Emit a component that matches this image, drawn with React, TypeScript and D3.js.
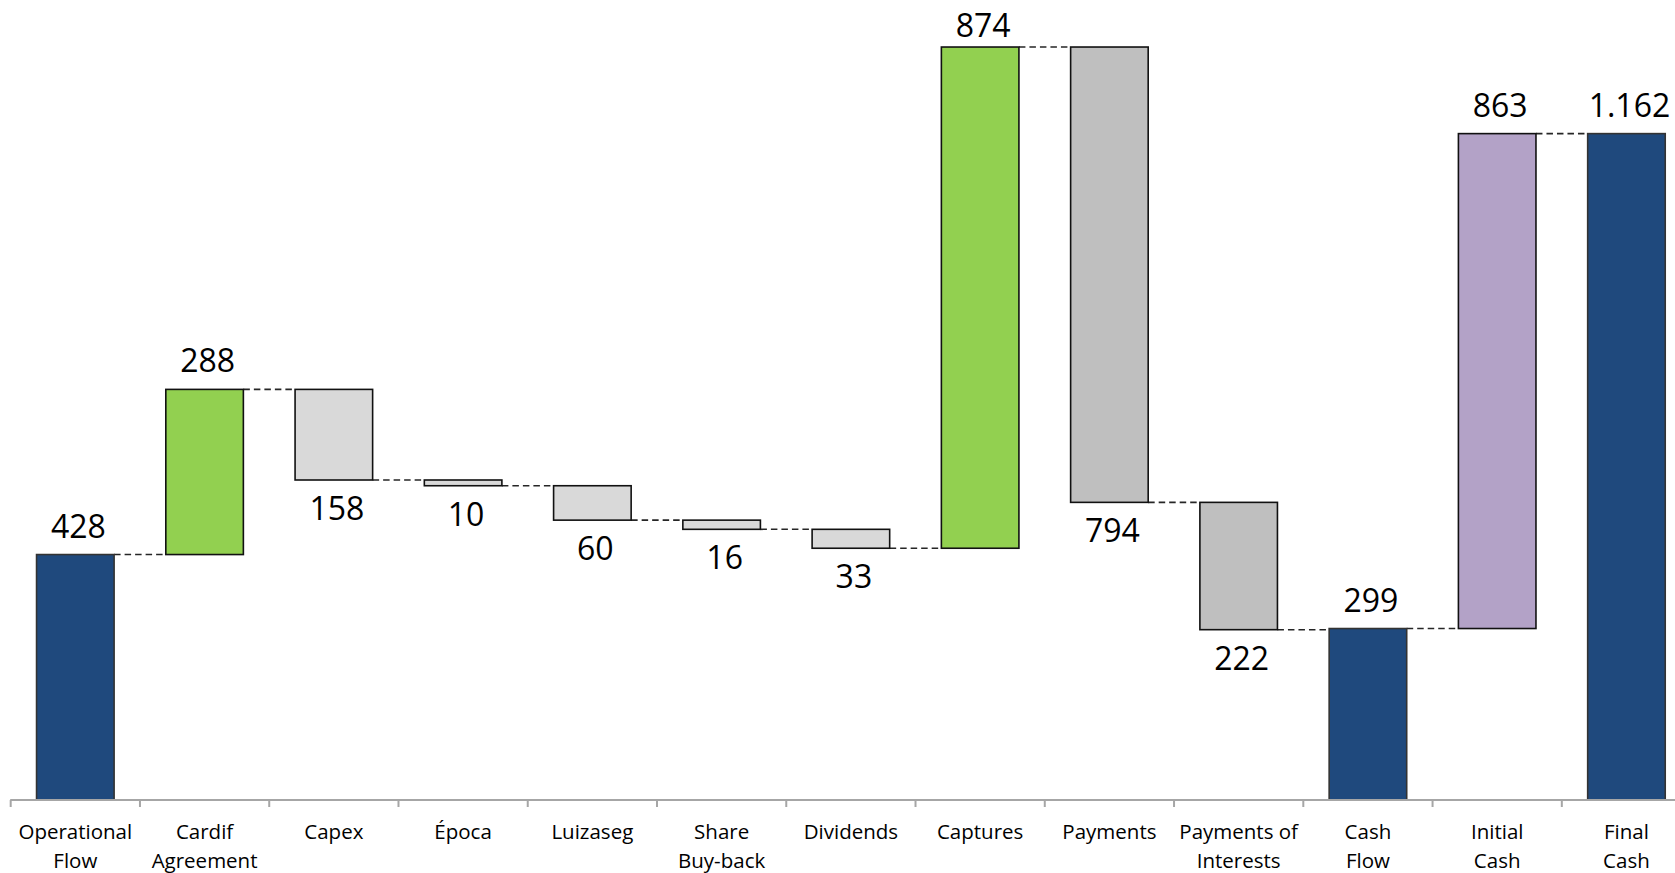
import React from "react";
import * as d3 from "d3";

const categories = [
  "Operational Flow",
  "Cardif Agreement",
  "Capex",
  "Época",
  "Luizaseg",
  "Share Buy-back",
  "Dividends",
  "Captures",
  "Payments",
  "Payments of Interests",
  "Cash Flow",
  "Initial Cash",
  "Final Cash",
];
const axisLines = [
  ["Operational", "Flow"],
  ["Cardif", "Agreement"],
  ["Capex"],
  ["Época"],
  ["Luizaseg"],
  ["Share", "Buy-back"],
  ["Dividends"],
  ["Captures"],
  ["Payments"],
  ["Payments of", "Interests"],
  ["Cash", "Flow"],
  ["Initial", "Cash"],
  ["Final", "Cash"],
];
// value of each step; kind: total = bar from zero, up/down = floating delta
const values = [428, 288, 158, 10, 60, 16, 33, 874, 794, 222, 299, 863, 1162];
const kinds = ["total", "up", "down", "down", "down", "down", "down", "up", "down", "down", "total", "up", "total"];
const colorKeys = ["blue", "green", "light", "light", "light", "light", "light", "green", "gray", "gray", "blue", "purple", "blue"];

const palette: Record<string, string> = {
  blue: "#1F497D",
  green: "#92D050",
  light: "#D9D9D9",
  gray: "#BFBFBF",
  purple: "#B3A2C7",
};

const W = 1675;
const H = 873;
const font = "'Open Sans', 'Noto Sans', sans-serif";

export default function App() {
  const step = 129.26;
  const x0 = 10.7;
  const x = d3
    .scaleBand<string>()
    .domain(categories)
    .range([x0, x0 + step * categories.length])
    .paddingInner(0.4)
    .paddingOuter(0.2);
  const y = d3.scaleLinear().domain([0, 1395]).range([800, 0]);
  const fmt = d3.formatLocale({ decimal: ",", thousands: ".", grouping: [3], currency: ["R$", ""] }).format(",");

  let running = 0;
  const bars = categories.map((c, i) => {
    const v = values[i];
    let lo: number, hi: number, start: number, end: number;
    if (kinds[i] === "total") {
      lo = 0;
      hi = v;
      start = v;
      end = v;
    } else if (kinds[i] === "up") {
      lo = running;
      hi = running + v;
      start = running;
      end = running + v;
    } else {
      lo = running - v;
      hi = running;
      start = running;
      end = running - v;
    }
    running = end;
    return { c, i, v, lo, hi, start, end, kind: kinds[i] };
  });

  const bw = x.bandwidth();
  const axisY = y(0);
  const gap = 17;
  const capH = 23;

  return (
    <svg
      width={W}
      height={H}
      style={{ position: "absolute", left: 0, top: 0, background: "#fff" }}
      fontFamily={font}
    >
      {/* connectors */}
      {bars.slice(0, -1).map((b, i) => {
        const n = bars[i + 1];
        const yy = y(b.kind === "total" ? b.hi : b.end);
        return (
          <line
            key={"c" + i}
            x1={(x(b.c) as number) + bw}
            x2={x(n.c) as number}
            y1={yy}
            y2={yy}
            stroke="#262626"
            strokeWidth={1.6}
            strokeDasharray="6.5,4"
          />
        );
      })}
      {/* bars */}
      {bars.map((b) => (
        <rect
          key={"b" + b.i}
          x={x(b.c)}
          y={y(b.hi)}
          width={bw}
          height={Math.max(1, y(b.lo) - y(b.hi))}
          fill={palette[colorKeys[b.i]]}
          stroke={colorKeys[b.i] === "blue" ? "#333" : "#111"}
          strokeWidth={1.6}
        />
      ))}
      {/* axis */}
      <line x1={x0 - 0.5} x2={W} y1={axisY} y2={axisY} stroke="#A6A6A6" strokeWidth={2} />
      {d3.range(categories.length + 1).map((k) => (
        <line
          key={"t" + k}
          x1={x0 + k * x.step()}
          x2={x0 + k * x.step()}
          y1={axisY}
          y2={axisY + 7}
          stroke="#A6A6A6"
          strokeWidth={2}
        />
      ))}
      {/* axis labels */}
      {categories.map((c, i) => (
        <text
          key={"l" + i}
          x={(x(c) as number) + bw / 2}
          textAnchor="middle"
          fontSize={20.5}
          fill="#000"
        >
          {axisLines[i].map((t, j) => (
            <tspan key={j} x={(x(c) as number) + bw / 2} y={839 + j * 29}>
              {t}
            </tspan>
          ))}
        </text>
      ))}
      {/* value labels */}
      {bars.map((b) => {
        const below = b.kind === "down";
        const yy = below ? y(b.lo) + gap + capH : Math.max(capH + 14, y(b.hi) - gap);
        return (
          <text
            key={"v" + b.i}
            x={(x(b.c) as number) + bw / 2 + 3}
            y={yy}
            textAnchor="middle"
            fontSize={32}
            fill="#000"
          >
            {fmt(b.v)}
          </text>
        );
      })}
    </svg>
  );
}
